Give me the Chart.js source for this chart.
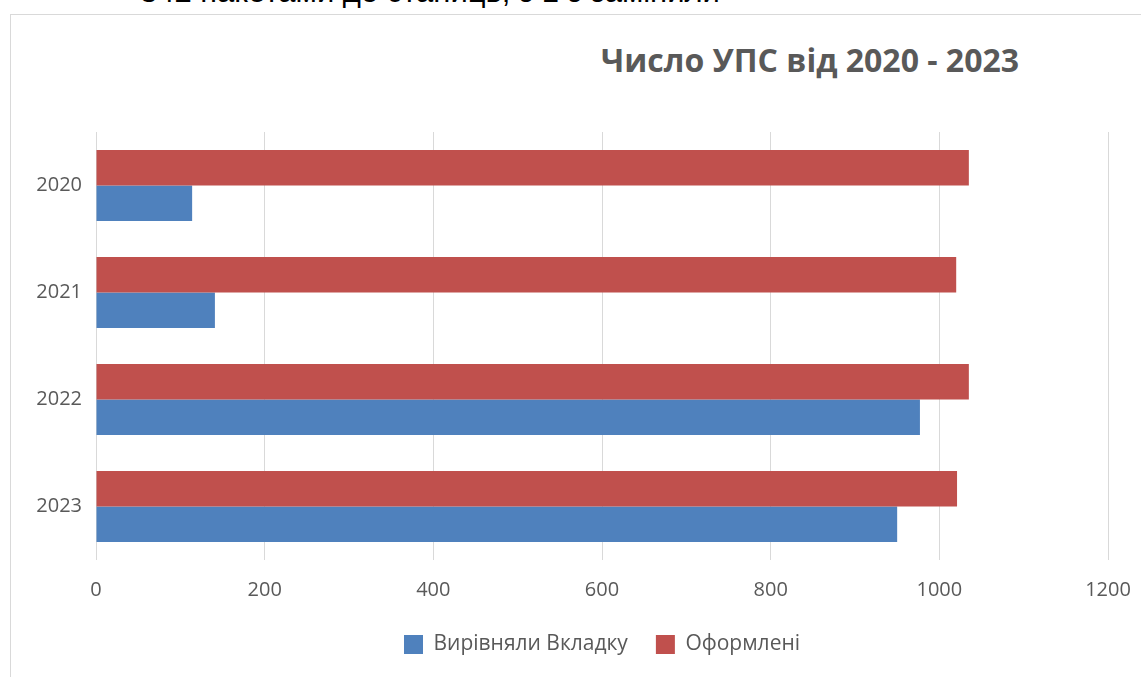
<!DOCTYPE html>
<html>
<head>
<meta charset="utf-8">
<script src="https://cdn.jsdelivr.net/npm/chart.js@4.4.1/dist/chart.umd.min.js"></script>
<style>
  html, body { margin: 0; padding: 0; background: #ffffff; }
  body { width: 1141px; height: 677px; position: relative; overflow: hidden; font-family: "Open Sans", sans-serif; }
  #topcut { position: absolute; left: 0; top: 0; width: 1141px; height: 8px; overflow: hidden; }
  #topcut span { position: absolute; left: 140px; top: -26px; font-family: "Liberation Sans", Arial, sans-serif; font-size: 31px; color: #000; white-space: nowrap; }
  #box { position: absolute; left: 10px; top: 14px; width: 1140px; height: 670px; border: 1px solid #d9d9d9; box-sizing: border-box; }
  #title { position: absolute; left: 510px; width: 600px; top: 38px; text-align: center; font-family: "Open Sans", sans-serif; font-weight: bold; font-size: 32px; color: #595959; }
  #wrap { position: absolute; left: 10px; top: 14px; width: 1131px; height: 663px; }
</style>
</head>
<body>
<div id="topcut"><span>342 пакетами до станиць, з 1 з замінили</span></div>
<div id="box"></div>
<div id="title">Число УПС від 2020 - 2023</div>
<div id="wrap"><canvas id="c" width="1131" height="663"></canvas></div>
<script>
const categories = ["2020", "2021", "2022", "2023"];
const seriesNames = ["Вирівняли Вкладку", "Оформлені"];
const aligned = [114, 141, 977, 950];
const registered = [1035, 1020, 1035, 1021];
const xTicks = [0, 200, 400, 600, 800, 1000, 1200];

const tickFont = { family: "Open Sans", size: 20 };

new Chart(document.getElementById('c'), {
  type: 'bar',
  data: {
    labels: categories,
    datasets: [
      { label: seriesNames[1], data: registered, backgroundColor: '#C0504D', borderWidth: 0 },
      { label: seriesNames[0], data: aligned, backgroundColor: '#4F81BD', borderWidth: 0 }
    ]
  },
  options: {
    indexAxis: 'y',
    responsive: false,
    animation: false,
    devicePixelRatio: 1,
    layout: { padding: { top: 118, left: 0, right: 33, bottom: 12 } },
    datasets: { bar: { categoryPercentage: 0.665, barPercentage: 1.0 } },
    scales: {
      x: {
        min: xTicks[0],
        max: xTicks[xTicks.length - 1],
        afterBuildTicks: (s) => { s.ticks = xTicks.map(v => ({ value: v })); },
        grid: { color: '#d9d9d9', lineWidth: 1, tickLength: 0, drawTicks: false },
        border: { display: false },
        ticks: { color: '#595959', font: tickFont, padding: 18, maxRotation: 0, callback: (v) => String(v) },
        afterFit: (s) => { s.height = 46; s.paddingRight = 0; s.paddingLeft = 0; }
      },
      y: {
        grid: { display: false },
        border: { display: false },
        ticks: { color: '#595959', font: tickFont, padding: 6 },
        afterFit: (s) => { s.width = 86; }
      }
    },
    plugins: {
      title: { display: false },
      tooltip: { enabled: false },
      legend: {
        position: 'bottom',
        fullSize: false,
        reverse: true,
        labels: {
          color: '#595959',
          font: { family: "Open Sans", size: 21 },
          boxWidth: 19,
          boxHeight: 19,
          padding: 28
        }
      }
    }
  }
});
</script>
</body>
</html>
